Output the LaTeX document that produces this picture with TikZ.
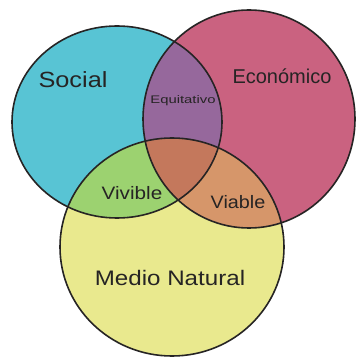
\documentclass[tikz,border=0pt]{standalone}
\usepackage{fontspec}
\setmainfont{Liberation Sans}
\definecolor{socc}{RGB}{88,196,212}
\definecolor{ecoc}{RGB}{202,98,128}
\definecolor{natc}{RGB}{233,233,142}
\definecolor{sec}{RGB}{150,104,156}
\definecolor{snc}{RGB}{156,210,112}
\definecolor{enc}{RGB}{214,150,106}
\definecolor{allc}{RGB}{196,120,92}
\definecolor{inkc}{RGB}{38,36,36}
\tikzset{
  outline/.style={draw=inkc,line width=1.6pt},
  lbl/.style={text=inkc,inner sep=0pt},
}
\def\socpath{(117,122) ellipse [x radius=105pt, y radius=96pt]}
\def\ecopath{(249,119) ellipse [x radius=106pt, y radius=109pt]}
\def\natpath{(172,247) ellipse [x radius=112pt, y radius=109pt]}
\begin{document}
\begin{tikzpicture}[x=1pt,y=-1pt]
\useasboundingbox[fill=white] (0,0) rectangle (356,358);
\fill[socc] \socpath;
\fill[ecoc] \ecopath;
\fill[natc] \natpath;
\begin{scope}\clip \socpath; \fill[sec] \ecopath; \end{scope}
\begin{scope}\clip \socpath; \fill[snc] \natpath; \end{scope}
\begin{scope}\clip \ecopath; \fill[enc] \natpath; \end{scope}
\begin{scope}\clip \socpath; \clip \ecopath; \fill[allc] \natpath; \end{scope}
\draw[outline] \socpath;
\draw[outline] \ecopath;
\draw[outline] \natpath;
\node[lbl,font=\fontsize{22}{24}\selectfont,xscale=1.15] (social) at (73,80) {Social};
\node[lbl,font=\fontsize{20}{22}\selectfont] (eco) at (282,76) {Económico};
\node[lbl,font=\fontsize{11}{13}\selectfont,xscale=1.35] (equi) at (183,101) {Equitativo};
\node[lbl,font=\fontsize{18}{20}\selectfont,xscale=1.15] (vivible) at (132,193) {Vivible};
\node[lbl,font=\fontsize{18}{20}\selectfont,xscale=1.1] (viable) at (238,202) {Viable};
\node[lbl,font=\fontsize{21}{23}\selectfont,xscale=1.15] (natural) at (170,278) {Medio Natural};
\end{tikzpicture}
\end{document}
